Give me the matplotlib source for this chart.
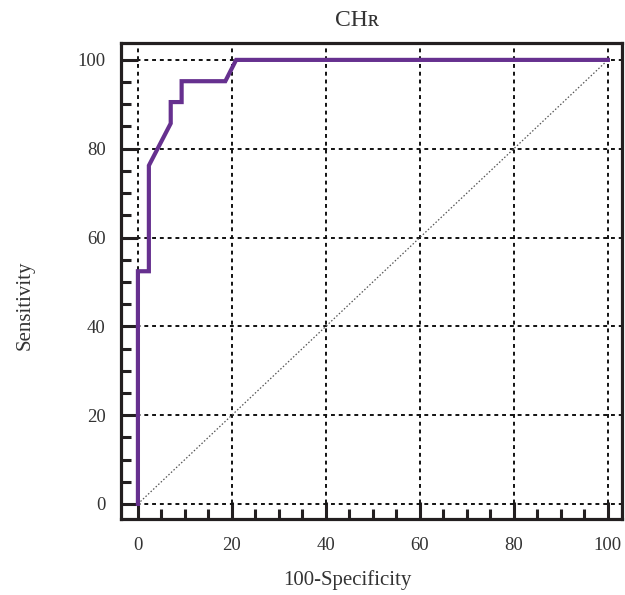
import matplotlib
matplotlib.use("Agg")
import matplotlib.pyplot as plt
from matplotlib.ticker import MultipleLocator

plt.rcParams['font.family'] = ['Liberation Serif', 'DejaVu Serif']

# ROC curve data (100-Specificity, Sensitivity)
fpr = [0, 0, 2.33, 2.33, 6.98, 6.98, 9.30, 9.30, 18.6, 20.9, 100]
tpr = [0, 52.4, 52.4, 76.2, 85.7, 90.5, 90.5, 95.2, 95.2, 100, 100]
diag = [0, 100]
major_ticks = [0, 20, 40, 60, 80, 100]
tick_labels = ["0", "20", "40", "60", "80", "100"]

W, H = 625, 595
fig = plt.figure(figsize=(6.25, 5.95), dpi=100)
ax = fig.add_axes([0.1936, 0.1277, 0.8016, 0.80])

txt = '#333333'
ax.plot(diag, diag, color='#555555', lw=0.9, linestyle=(0, (1.2, 1.6)), zorder=2)
ax.plot(fpr, tpr, color='#66308f', lw=3.0, solid_joinstyle='miter', zorder=3)

ax.set_xlim(-3.6, 103.0)
ax.set_ylim(-3.4, 103.8)
ax.set_xticks(major_ticks)
ax.set_xticklabels(tick_labels)
ax.set_yticks(major_ticks)
ax.set_yticklabels(tick_labels)
ax.xaxis.set_minor_locator(MultipleLocator(5))
ax.yaxis.set_minor_locator(MultipleLocator(5))

ax.grid(True, which='major', color='#111111', lw=1.4, linestyle=(0, (2, 2)), zorder=1)

for s in ax.spines.values():
    s.set_linewidth(2.3)
    s.set_color('#231f20')

ax.tick_params(which='major', direction='in', length=12, width=2.2, color='#231f20',
               labelsize=13.5, labelcolor=txt, pad=11, top=False, right=False)
ax.tick_params(which='minor', direction='in', length=7.5, width=2.2, color='#231f20',
               top=False, right=False)
ax.tick_params(axis='x', which='major', pad=13)

fig.text(357 / W, 1 - 20 / H, "CHʀ", ha='center', va='center', fontsize=17, color=txt)
fig.text(347 / W, 1 - 580 / H, "100-Specificity", ha='center', va='center', fontsize=15, color=txt)
fig.text(25 / W, 1 - 305 / H, "Sensitivity", ha='center', va='center', rotation=90,
         fontsize=15, color=txt)

fig.savefig("out.png", dpi=100)
